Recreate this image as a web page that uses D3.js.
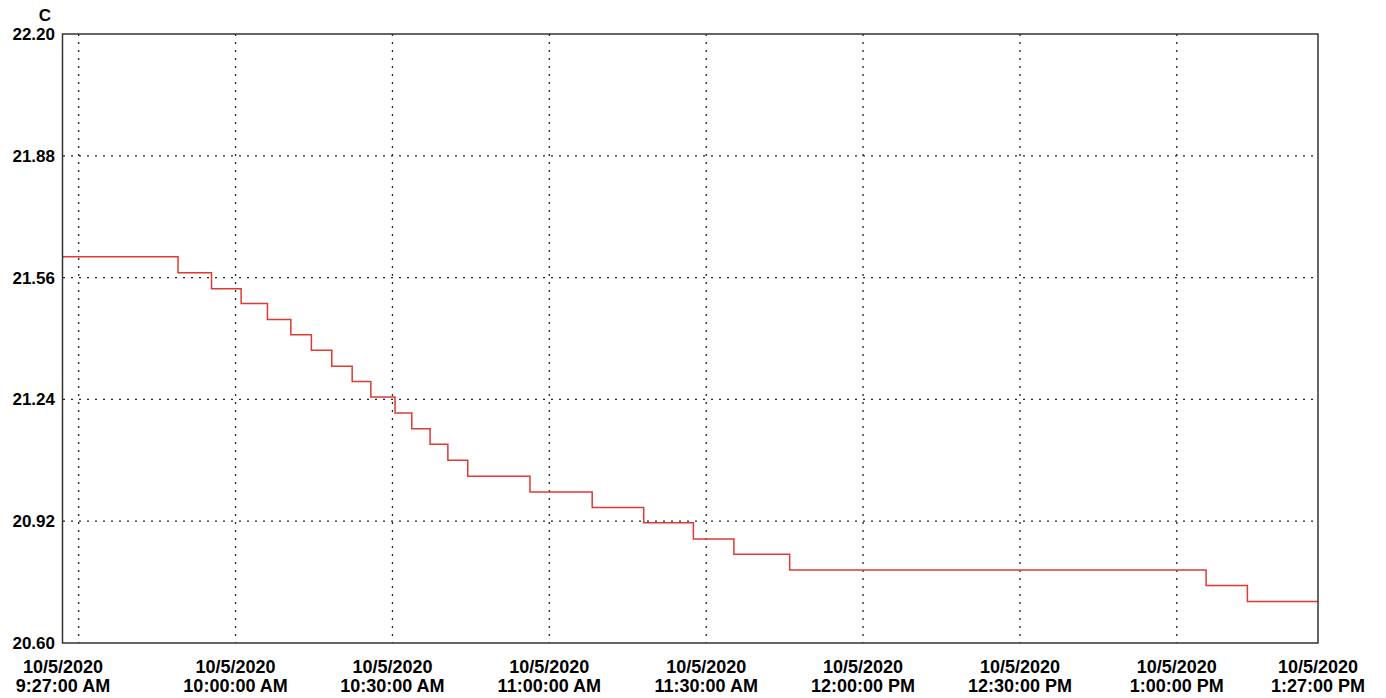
<!DOCTYPE html>
<html>
<head>
<meta charset="utf-8">
<script src="https://cdn.jsdelivr.net/npm/d3@7"></script>
<style>
  body { margin: 0; background: #fff; }
  svg { display: block; font-family: "Liberation Sans", Arial, sans-serif; font-weight: bold; }
</style>
</head>
<body>
<script>
// time each level starts at, and the temperature of that level
var stepTimes = ["09:27:00", "09:49:00", "09:55:24", "10:01:04", "10:06:06", "10:10:34",
    "10:14:30", "10:18:24", "10:22:18", "10:25:52", "10:30:30", "10:33:42", "10:37:12",
    "10:40:36", "10:44:24", "10:56:18", "11:08:12", "11:18:03", "11:27:33", "11:35:18",
    "11:45:58", "13:05:36", "13:13:30"];
var stepValues = [21.615, 21.573, 21.531, 21.492, 21.450, 21.410, 21.369, 21.327, 21.287,
    21.246, 21.204, 21.163, 21.122, 21.080, 21.038, 20.997, 20.956, 20.916, 20.873,
    20.833, 20.792, 20.751, 20.709];
var endTime = "13:27:00";

var yTicks = [20.60, 20.92, 21.24, 21.56, 21.88, 22.20];
var xGridTimes = ["09:30:00", "10:00:00", "10:30:00", "11:00:00", "11:30:00", "12:00:00", "12:30:00", "13:00:00"];
var xLabelTimes = ["09:27:00", "10:00:00", "10:30:00", "11:00:00", "11:30:00", "12:00:00", "12:30:00", "13:00:00", "13:27:00"];
var dateLabel = "10/5/2020";
var yUnit = "C";

var width = 1386, height = 698;
var margin = {top: 34, right: 68, bottom: 55, left: 63};

var parse = d3.timeParse("%H:%M:%S");
var fmt = d3.timeFormat("%-I:%M:%S %p");

var data = stepTimes.map(function (t, i) {
    return {t: parse(t), v: stepValues[i]};
});
data.push({t: parse(endTime), v: stepValues[stepValues.length - 1]});

var svg = d3.select("body").append("svg")
    .attr("width", width)
    .attr("height", height);

var x = d3.scaleTime()
    .domain([parse(stepTimes[0]), parse(endTime)])
    .range([margin.left, width - margin.right]);

var y = d3.scaleLinear()
    .domain([20.60, 22.20])
    .range([height - margin.bottom, margin.top]);

// grid
svg.append("g")
    .selectAll("line")
    .data(xGridTimes.map(parse))
    .enter().append("line")
    .attr("x1", d => x(d)).attr("x2", d => x(d))
    .attr("y1", y(22.20)).attr("y2", y(20.60))
    .attr("stroke", "#222")
    .attr("stroke-width", 1.3)
    .attr("stroke-dasharray", "2,6");

svg.append("g")
    .selectAll("line")
    .data(yTicks.slice(1, -1))
    .enter().append("line")
    .attr("x1", x.range()[0]).attr("x2", x.range()[1])
    .attr("y1", d => y(d)).attr("y2", d => y(d))
    .attr("stroke", "#222")
    .attr("stroke-width", 1.3)
    .attr("stroke-dasharray", "2,6");

// temperature steps
var line = d3.line()
    .x(d => x(d.t))
    .y(d => y(d.v))
    .curve(d3.curveStepAfter);

svg.append("path")
    .datum(data)
    .attr("d", line)
    .attr("fill", "none")
    .attr("stroke", "#de3a33")
    .attr("stroke-width", 1.5);

// frame
svg.append("rect")
    .attr("x", x.range()[0] - 0.5)
    .attr("y", y(22.20))
    .attr("width", x.range()[1] - x.range()[0] + 0.5)
    .attr("height", y(20.60) - y(22.20))
    .attr("fill", "none")
    .attr("stroke", "#333")
    .attr("stroke-width", 1.5);

// y labels
svg.append("g")
    .selectAll("text")
    .data(yTicks)
    .enter().append("text")
    .attr("x", 55)
    .attr("y", d => y(d))
    .attr("dy", "0.35em")
    .attr("text-anchor", "end")
    .style("font-size", "17px")
    .text(d => d.toFixed(2));

svg.append("text")
    .attr("x", 51)
    .attr("y", 15)
    .attr("dy", "0.35em")
    .attr("text-anchor", "end")
    .style("font-size", "17px")
    .text(yUnit);

// x labels
var xl = svg.append("g")
    .selectAll("text")
    .data(xLabelTimes.map(parse))
    .enter().append("text")
    .attr("text-anchor", "middle")
    .style("font-size", "18px");

xl.append("tspan")
    .attr("x", d => x(d))
    .attr("y", 667)
    .attr("dy", "0.35em")
    .text(dateLabel);

xl.append("tspan")
    .attr("x", d => x(d))
    .attr("y", 686)
    .attr("dy", "0.35em")
    .text(d => fmt(d));
</script>
</body>
</html>
